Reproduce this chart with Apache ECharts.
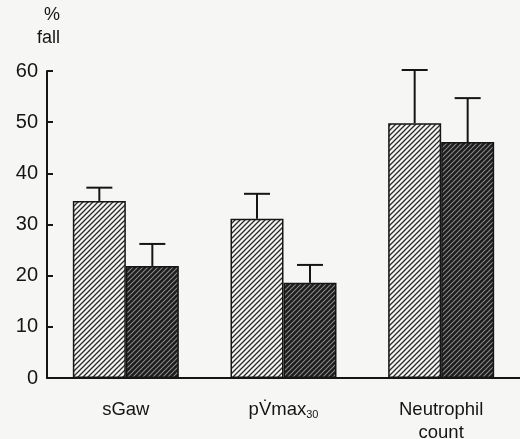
<!DOCTYPE html>
<html>
<head>
<meta charset="utf-8">
<script src="https://cdn.jsdelivr.net/npm/echarts@6/dist/echarts.min.js"></script>
<style>
  html, body { margin: 0; padding: 0; background: #f6f6f4; }
  #main { width: 520px; height: 439px; }
</style>
</head>
<body>
<div id="main"></div>
<script>
// data
var categories = ['sGaw', 'pV̇max30', 'Neutrophil\ncount'];
var lightValues = [34.6, 31.1, 49.8];
var lightErrTop = [37.2, 36.0, 60.2];
var darkValues = [21.9, 18.6, 46.1];
var darkErrTop = [26.2, 22.1, 54.7];
var yTicks = [0, 10, 20, 30, 40, 50, 60];

var BAR_W = 53;
var FONT = '"Liberation Sans", Arial, sans-serif';

// hatched fills
function hatch(bg, fg, lw) {
  var s = 5;
  var c = document.createElement('canvas');
  c.width = s; c.height = s;
  var ctx = c.getContext('2d');
  ctx.fillStyle = bg;
  ctx.fillRect(0, 0, s, s);
  ctx.strokeStyle = fg;
  ctx.lineWidth = lw;
  ctx.beginPath();
  ctx.moveTo(-1, s + 1); ctx.lineTo(s + 1, -1);
  ctx.moveTo(-1, 1); ctx.lineTo(1, -1);
  ctx.moveTo(s - 1, s + 1); ctx.lineTo(s + 1, s - 1);
  ctx.stroke();
  return { image: c, repeat: 'repeat' };
}

var myChart = echarts.init(document.getElementById('main'));

function errSeries(vals, tops, side) {
  var d = vals.map(function (v, i) { return [i, v, tops[i]]; });
  return {
    type: 'custom',
    data: d,
    z: 5,
    renderItem: function (params, api) {
      var base = api.coord([api.value(0), api.value(1)]);
      var top = api.coord([api.value(0), api.value(2)]);
      var x = base[0] + side * BAR_W / 2;
      return {
        type: 'group',
        children: [
          { type: 'line', shape: { x1: x, y1: base[1], x2: x, y2: top[1] }, style: { stroke: '#151515', lineWidth: 2 } },
          { type: 'line', shape: { x1: x - 13, y1: top[1], x2: x + 13, y2: top[1] }, style: { stroke: '#151515', lineWidth: 2 } }
        ]
      };
    }
  };
}

var option = {
  backgroundColor: '#f6f6f4',
  animation: false,
  grid: { left: 47, right: 0, top: 71, bottom: 61, containLabel: false, outerBoundsMode: 'none' },
  graphic: [
    { type: 'text', left: 44, top: 6, style: { text: '%', font: '18px ' + FONT, fill: '#151515' } },
    { type: 'text', left: 37, top: 29, style: { text: 'fall', font: '18px ' + FONT, fill: '#151515' } }
  ],
  xAxis: {
    type: 'category',
    data: categories,
    axisLine: { lineStyle: { color: '#151515', width: 2 } },
    axisTick: { show: false },
    axisLabel: {
      interval: 0,
      margin: 20,
      color: '#151515',
      fontSize: 18.5,
      lineHeight: 23,
      fontFamily: FONT,
      formatter: function (v) {
        if (v.indexOf('max30') >= 0) return '{n|pV̇max}{sub|30}';
        return v;
      },
      rich: {
        n: { fontSize: 18.5, color: '#151515', fontFamily: FONT },
        sub: { fontSize: 11, color: '#151515', padding: [10, 0, 0, 0], fontFamily: FONT }
      }
    }
  },
  yAxis: {
    type: 'value',
    min: 0,
    max: 60,
    interval: 10,
    axisLine: { show: true, lineStyle: { color: '#151515', width: 2 } },
    axisTick: { show: true, inside: true, length: 6, lineStyle: { color: '#151515', width: 2 } },
    splitLine: { show: false },
    axisLabel: {
      margin: 9,
      color: '#151515',
      fontSize: 20,
      fontFamily: FONT,
      formatter: function (v) { return yTicks.indexOf(v) >= 0 ? String(v) : ''; }
    }
  },
  series: [
    {
      type: 'bar',
      data: lightValues,
      barWidth: BAR_W,
      barGap: '0%',
      itemStyle: { color: hatch('#f4f4f2', '#2a2a2a', 1.3), borderColor: '#151515', borderWidth: 1.5 }
    },
    {
      type: 'bar',
      data: darkValues,
      barWidth: BAR_W,
      barGap: '0%',
      itemStyle: { color: hatch('#1c1c1c', '#8a8a8a', 1.1), borderColor: '#151515', borderWidth: 1.5 }
    },
    errSeries(lightValues, lightErrTop, -1),
    errSeries(darkValues, darkErrTop, 1)
  ]
};

myChart.setOption(option);
</script>
</body>
</html>
